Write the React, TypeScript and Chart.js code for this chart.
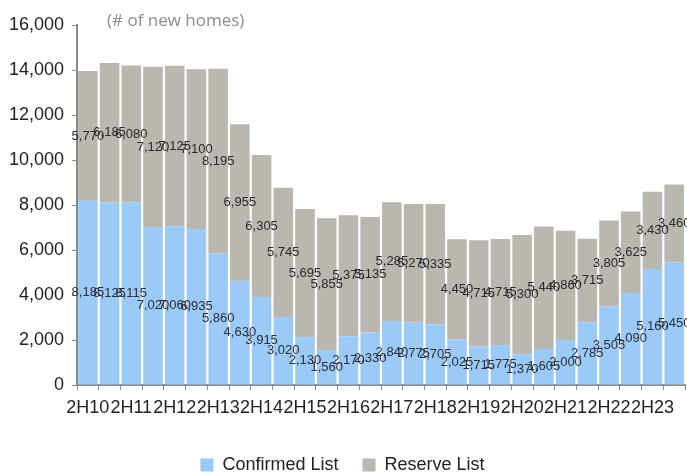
import React, { useEffect, useRef } from "react";
import { Chart, registerables } from "chart.js";

Chart.register(...registerables);

const categories = [
  "2H10", "1H11", "2H11", "1H12", "2H12", "1H13", "2H13", "1H14", "2H14", "1H15",
  "2H15", "1H16", "2H16", "1H17", "2H17", "1H18", "2H18", "1H19", "2H19", "1H20",
  "2H20", "1H21", "2H21", "1H22", "2H22", "1H23", "2H23", "1H24",
];
const confirmed = [
  8185, 8125, 8115, 7020, 7060, 6935, 5860, 4630, 3915, 3020,
  2130, 1560, 2170, 2330, 2840, 2775, 2705, 2025, 1715, 1775,
  1370, 1605, 2000, 2785, 3505, 4090, 5160, 5450,
];
const reserve = [
  5770, 6185, 6080, 7120, 7125, 7100, 8195, 6955, 6305, 5745,
  5695, 5855, 5375, 5135, 5285, 5270, 5335, 4450, 4715, 4715,
  5300, 5440, 4860, 3715, 3805, 3625, 3430, 3460,
];
const seriesNames = ["Confirmed List", "Reserve List"];
const unitLabel = "(# of new homes)";
const yMax = 16000;
const yStep = 2000;

const BLUE = "#9ccaf6";
const GRAY = "#bab6b0";
const TEXT = "#222222";
const AXIS = "#8a8a8a";
const FONT = "'Liberation Sans', Arial, sans-serif";

const fmt = (v: number) => v.toLocaleString("en-US");

const labelPlugin = {
  id: "segLabels",
  afterDatasetsDraw(chart: any) {
    const ctx = chart.ctx;
    ctx.save();
    ctx.font = `13px ${FONT}`;
    ctx.textAlign = "center";
    ctx.textBaseline = "middle";
    chart.data.datasets.forEach((ds: any, di: number) => {
      const meta = chart.getDatasetMeta(di);
      ctx.fillStyle = di === 0 ? "#2a2f3a" : "#2a2a2a";
      meta.data.forEach((el: any, i: number) => {
        const y = (el.y + el.base) / 2;
        ctx.fillText(fmt(ds.data[i]), el.x, y);
      });
    });
    ctx.restore();
  },
};

const unitPlugin = {
  id: "unitText",
  afterDraw(chart: any) {
    const ctx = chart.ctx;
    ctx.save();
    ctx.font = `17px 'Open Sans', sans-serif`;
    ctx.fillStyle = "#8c8c8c";
    ctx.textAlign = "left";
    ctx.textBaseline = "middle";
    ctx.fillText(unitLabel, chart.chartArea.left + 30, 21);
    ctx.restore();
  },
};

export default function App() {
  const ref = useRef<HTMLCanvasElement | null>(null);

  useEffect(() => {
    document.body.style.margin = "0";
    const canvas = ref.current;
    if (!canvas) return;
    const chart = new Chart(canvas, {
      type: "bar",
      data: {
        labels: categories,
        datasets: [
          {
            label: seriesNames[0],
            data: confirmed,
            backgroundColor: BLUE,
            barPercentage: 0.9,
            categoryPercentage: 1,
          },
          {
            label: seriesNames[1],
            data: reserve,
            backgroundColor: GRAY,
            barPercentage: 0.9,
            categoryPercentage: 1,
          },
        ],
      },
      options: {
        responsive: false,
        animation: false,
        layout: { padding: { top: 25, right: 2, bottom: -10, left: 0 } },
        plugins: {
          legend: {
            position: "bottom",
            labels: {
              boxWidth: 13,
              boxHeight: 13,
              padding: 24,
              color: TEXT,
              font: { size: 18, family: FONT },
            },
          },
          tooltip: { enabled: false },
          title: { display: false },
        },
        scales: {
          x: {
            stacked: true,
            offset: true,
            grid: {
              display: true,
              drawOnChartArea: false,
              drawTicks: true,
              tickLength: 5,
              offset: true,
              color: AXIS,
            },
            border: { display: true, color: AXIS, width: 2 },
            ticks: {
              autoSkip: false,
              maxRotation: 0,
              minRotation: 0,
              padding: 7,
              color: TEXT,
              font: { size: 18, family: FONT },
              callback: (_v: any, i: number) => (i % 2 === 0 ? categories[i] : ""),
            },
            afterFit: (s: any) => {
              s.height = 47;
            },
          },
          y: {
            stacked: true,
            min: 0,
            max: yMax,
            grid: {
              display: true,
              drawOnChartArea: false,
              drawTicks: true,
              tickLength: 5,
              color: AXIS,
            },
            border: { display: true, color: AXIS, width: 2 },
            ticks: {
              stepSize: yStep,
              padding: 8,
              color: TEXT,
              font: { size: 18, family: FONT },
              callback: (v: any) => fmt(Number(v)),
            },
            afterFit: (s: any) => {
              s.width = 77;
            },
          },
        },
      },
      plugins: [labelPlugin, unitPlugin],
    });
    return () => chart.destroy();
  }, []);

  return (
    <div style={{ width: 687, height: 474, background: "#fff" }}>
      <canvas ref={ref} width={687} height={474} />
    </div>
  );
}
